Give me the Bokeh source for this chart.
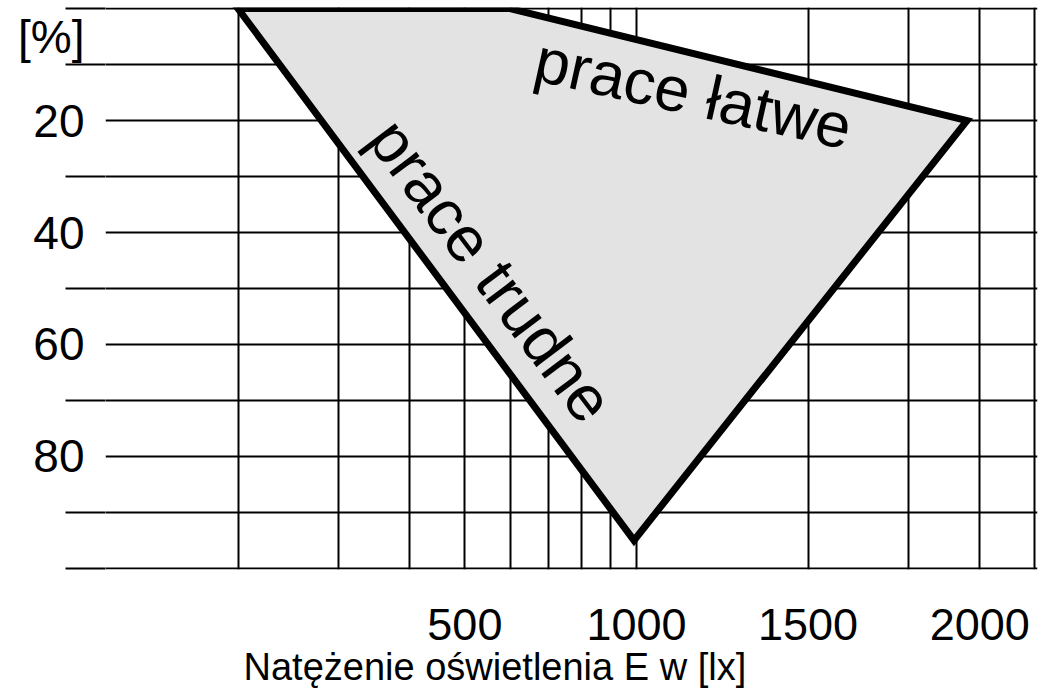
from bokeh.plotting import figure
from bokeh.models import Range1d, FixedTicker, Label, Title
from bokeh.embed import file_html
from bokeh.resources import INLINE

# ---- data ----
zone_lux = [200, 600, 3800, 990]          # polygon vertices, illuminance [lx]
zone_pct = [0, 0, 20, 95]                 # polygon vertices, [%]
grid_lux = [200, 300, 400, 500, 600, 700, 800, 900, 1000, 2000, 3000, 4000, 5000]
grid_pct = [0, 10, 20, 30, 40, 50, 60, 70, 80, 90, 100]
y_tick_values = [20, 40, 60, 80]
y_tick_minor = [0, 10, 30, 50, 70, 90, 100]
x_tick_values = [500, 1000, 2000, 4000]
x_tick_labels = ["500", "1000", "1500", "2000"]
label_easy = "prace łatwe"
label_hard = "prace trudne"
x_title = "Natężenie oświetlenia E w [lx]"
y_title = "[%]"
y_title_pos = 5.0

FONT = "Liberation Sans"

p = figure(width=1043, height=692, x_axis_type="log",
           x_range=Range1d(117.1, 5052), y_range=Range1d(100.2, -0.2),
           output_backend="svg", toolbar_location=None,
           min_border_left=105, min_border_right=6,
           min_border_top=7, min_border_bottom=123)
p.outline_line_color = None
p.background_fill_color = "white"
p.border_fill_color = "white"

# grid
p.xgrid.ticker = FixedTicker(ticks=grid_lux, minor_ticks=[])
p.ygrid.ticker = FixedTicker(ticks=grid_pct, minor_ticks=[])
for g in (p.xgrid, p.ygrid):
    g.grid_line_color = "black"
    g.grid_line_width = 2
    g.grid_line_alpha = 1.0

# y axis (unit label "[%]" sits in the tick-label column)
ya = p.yaxis[0]
ya.ticker = FixedTicker(ticks=[y_title_pos] + y_tick_values, minor_ticks=y_tick_minor)
ya.major_label_overrides = {y_title_pos: y_title}
ya.axis_line_color = None
ya.major_tick_line_color = None
ya.major_tick_out = 0
ya.major_tick_in = 0
ya.minor_tick_out = 40
ya.minor_tick_in = 0
ya.minor_tick_line_color = "black"
ya.minor_tick_line_width = 2
ya.major_label_standoff = -19
ya.major_label_text_font = FONT
ya.major_label_text_font_size = "46px"
ya.major_label_text_color = "black"

# x axis
xa = p.xaxis[0]
xa.ticker = FixedTicker(ticks=x_tick_values, minor_ticks=[])
xa.major_label_overrides = {v: t for v, t in zip(x_tick_values, x_tick_labels)}
xa.axis_line_color = None
xa.major_tick_line_color = None
xa.minor_tick_line_color = None
xa.major_tick_out = 0
xa.major_tick_in = 0
xa.major_label_standoff = 39
xa.major_label_text_font = FONT
xa.major_label_text_font_size = "45px"
xa.major_label_text_color = "black"

# x axis title (left-aligned with offset, as in the reference)
p.add_layout(Title(text=x_title, align="left", offset=138, standoff=3,
                   text_font=FONT, text_font_size="38px",
                   text_font_style="normal", text_color="black"), "below")

# zone polygon
p.patch(x=zone_lux, y=zone_pct, fill_color="#e3e3e3", fill_alpha=1.0,
        line_color="black", line_width=7, line_join="miter")

# in-chart labels
p.add_layout(Label(x=1259, y=15.1, text=label_easy, angle=-12.5, angle_units="deg",
                   text_align="center", text_baseline="middle",
                   text_font=FONT, text_font_size="63px", text_color="black"))
p.add_layout(Label(x=556, y=46.8, text=label_hard, angle=-53, angle_units="deg",
                   text_align="center", text_baseline="middle",
                   text_font=FONT, text_font_size="64px", text_color="black"))

open("out.html", "w").write(file_html(p, INLINE))
